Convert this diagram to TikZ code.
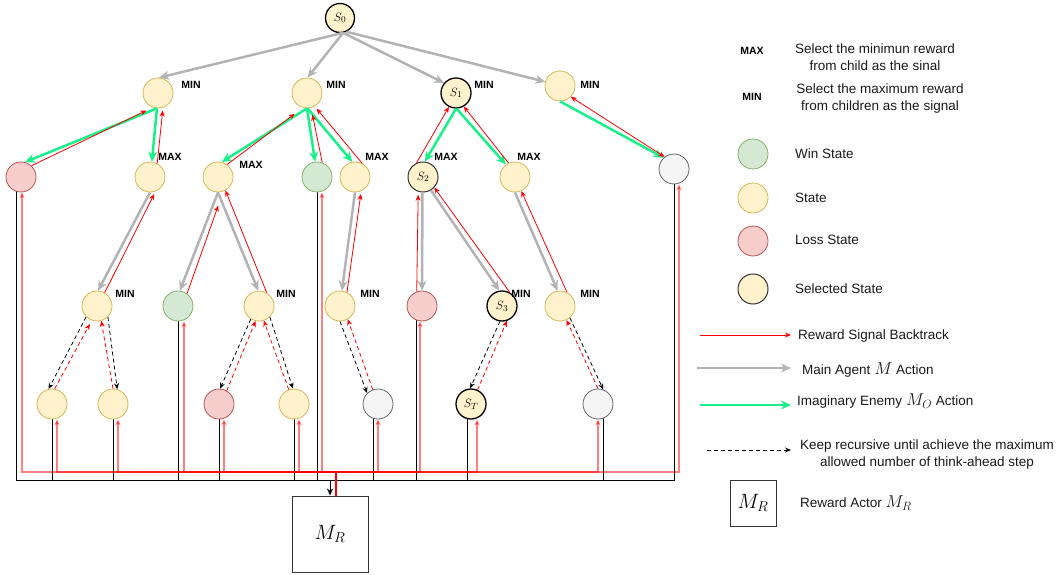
\documentclass[tikz,border=0pt]{standalone}
\usepackage{fontspec}
\setmainfont{Liberation Sans}
\usetikzlibrary{arrows.meta,calc}
\definecolor{stf}{HTML}{FFF2CC}
\definecolor{std}{HTML}{D6B656}
\definecolor{winf}{HTML}{D5E8D4}
\definecolor{wind}{HTML}{82B366}
\definecolor{lossf}{HTML}{F8CECC}
\definecolor{lossd}{HTML}{B85450}
\definecolor{greyf}{HTML}{F5F5F5}
\definecolor{greyd}{HTML}{666666}
\definecolor{agray}{HTML}{B3B3B3}
\definecolor{agreen}{HTML}{1AF08A}
\pgfdeclarelayer{bg}
\pgfsetlayers{bg,main}
\begin{document}
\begin{tikzpicture}[x=1pt,y=-1pt,
  base/.style={circle,minimum size=30pt,inner sep=0pt,line width=0.8pt,font=\fontsize{13}{13}\selectfont},
  st/.style={base,draw=std,fill=stf},
  win/.style={base,draw=wind,fill=winf},
  loss/.style={base,draw=lossd,fill=lossf},
  grey/.style={base,draw=greyd,fill=greyf},
  sel/.style={base,draw=black,fill=stf,line width=1.3pt},
  selb/.style={base,draw=black!80,fill=stf,line width=1pt},
  lab/.style={font=\fontsize{10.5}{12}\selectfont\bfseries,inner sep=0pt},
  lt/.style={font=\fontsize{13.5}{17}\selectfont,inner sep=0pt,text=black!90},
  garrow/.style={draw=agray,line width=2.5pt,-{Stealth[length=10pt,width=9pt]}},
  earrow/.style={draw=agreen,line width=2.5pt,-{Stealth[length=10pt,width=9pt]}},
  rarrow/.style={draw=red,line width=0.8pt,-{Stealth[length=6pt,width=5pt]}},
  darrow/.style={draw=black,line width=0.8pt,dash pattern=on 4pt off 3pt,-{Stealth[length=6pt,width=5pt]}},
  rdarrow/.style={draw=red,line width=0.8pt,dash pattern=on 4pt off 3pt,-{Stealth[length=6pt,width=5pt]}},
  bline/.style={draw=black,line width=1pt},
  rline/.style={draw=red,line width=1.5pt,draw opacity=0.5,fill opacity=0.5,-{Stealth[length=6pt,width=5pt]}},
  mrbox/.style={draw=black!80,line width=0.9pt,inner sep=0pt}
]
\useasboundingbox (0,0) rectangle (1060,575);

% ---------- nodes ----------
\node[sel,minimum size=29pt] (S0) at (340,18) {$S_0$};
\node[st] (A1) at (158,93) {};
\node[st] (A2) at (307,93) {};
\node[sel] (S1) at (456,93) {$S_1$};
\node[st] (A4) at (560,86) {};

\node[loss] (L) at (21,177) {};
\node[st] (B) at (150,177) {};
\node[st] (C) at (218,177) {};
\node[win] (D) at (317,177) {};
\node[st] (E) at (355,177) {};
\node[selb] (S2) at (423,177) {$S_2$};
\node[st] (F) at (515,177) {};
\node[grey] (G) at (674,169) {};

\node[st] (H) at (97,306) {};
\node[win] (I) at (178,306) {};
\node[st] (J) at (259,306) {};
\node[st] (K) at (340,306) {};
\node[loss] (Ls) at (422,306) {};
\node[sel] (S3) at (502,306) {$S_3$};
\node[st] (M) at (560,306) {};

\node[st] (N1) at (52,404) {};
\node[st] (N2) at (113,404) {};
\node[loss] (N3) at (219,404) {};
\node[st] (N4) at (294,404) {};
\node[grey] (N5) at (378,404) {};
\node[sel] (ST) at (471,404) {$S_T$};
\node[grey] (N7) at (598,404) {};

\node[mrbox,minimum width=76pt,minimum height=76pt,font=\fontsize{20.5}{20.5}\selectfont] (MR) at (330,534) {$M_R$};

% ---------- MIN / MAX labels ----------
\node[lab] (tA1) at (191,85) {MIN};
\node[lab] (tA2) at (336,85) {MIN};
\node[lab] (tS1) at (484,85) {MIN};
\node[lab] (tA4) at (590,85) {MIN};
\node[lab] (tB) at (170,157) {MAX};
\node[lab] (tC) at (251,165) {MAX};
\node[lab] (tE) at (377,157) {MAX};
\node[lab] (tS2) at (446,157) {MAX};
\node[lab] (tF) at (529,157) {MAX};
\node[lab] (tH) at (125,294) {MIN};
\node[lab] (tJ) at (286,294) {MIN};
\node[lab] (tK) at (370,294) {MIN};
\node[lab] (tS3) at (521,294) {MIN};
\node[lab] (tM) at (590,294) {MIN};

% ---------- level 0 -> 1 ----------
\draw[garrow] (S0.-78) -- (A1.86);
\draw[garrow] (S0.-78) -- (A2.88);
\draw[garrow] (S0.-78) -- (S1.140);
\draw[garrow] (S0.-65) -- (A4.164);

% ---------- level 1 -> 2 ----------
\draw[earrow] (A1.266) -- (L.75);
\draw[earrow] (A1.266) -- (B.83);
\draw[earrow] (A2.270) -- (C.76);
\draw[earrow] (A2.270) -- (D.97);
\draw[earrow] (A2.272) -- (E.100);
\draw[earrow] (S1.270) -- (S2.83);
\draw[earrow] (S1.272) -- (F.126);
\draw[earrow] (A4.270) -- (G.133);

\draw[rarrow,shorten >=7pt] (L.47) -- (A1.250);
\draw[rarrow,shorten >=3pt] (B.62) -- (A1.-71);
\draw[rarrow,shorten >=10pt] (C.54) -- (A2.254);
\draw[rarrow,shorten >=7pt] (D.70) -- (A2.-75);
\draw[rarrow,shorten >=3pt] (E.62) -- (A2.-60);
\draw[rarrow] (S2.115) -- (S1.243);
\draw[rarrow] (F.115) -- (S1.-60);
\draw[rarrow,{Stealth[length=6pt,width=5pt]}-{Stealth[length=6pt,width=5pt]}] (A4.-45) -- (G.128);

% ---------- level 2 -> 3 ----------
\draw[garrow] (B.270) -- (H.86);
\draw[rarrow,shorten >=3pt] (H.60) -- (B.-69);
\draw[garrow] (C.270) -- (I.83);
\draw[rarrow,shorten >=15pt] (I.54) -- (C.-70);
\draw[garrow] (C.270) -- (J.93);
\draw[rarrow] (J.60) -- (C.-61);
\draw[garrow] (E.270) -- (K.83);
\draw[rarrow,shorten >=3pt] (K.63) -- (E.-66);
\draw[garrow] (S2.268) -- (Ls.90);
\draw[rarrow,shorten >=3pt] (Ls.110) -- (S2.252);
\draw[garrow] (S2.-59) -- (S3.100);
\draw[rarrow] (S3.60) -- (S2.-43);
\draw[garrow] (F.270) -- (M.99);
\draw[rarrow] (M.63) -- (F.-66);

% ---------- level 3 -> 4 (dashed) ----------
\draw[darrow] (H.225) -- (N1.103);
\draw[rdarrow,shorten >=4pt] (N1.80) -- (H.250);
\draw[darrow] (H.-45) -- (N2.74);
\draw[rdarrow] (N2.90) -- (H.-74);
\draw[darrow] (J.238) -- (N3.86);
\draw[rdarrow] (N3.60) -- (J.257);
\draw[darrow] (J.-45) -- (N4.94);
\draw[rdarrow] (N4.110) -- (J.-72);
\draw[darrow] (K.270) -- (N5.135);
\draw[rdarrow] (N5.110) -- (K.-60);
\draw[darrow] (S3.262) -- (ST.93);
\draw[rdarrow] (ST.65) -- (S3.-72);
\draw[darrow] (M.-50) -- (N7.70);
\draw[rdarrow] (N7.90) -- (M.-65);

% ---------- buses to / from the reward actor ----------
\coordinate (bb) at (330,480);
\coordinate (br) at (336,472);
\begin{pgfonlayer}{bg}
\foreach \n/\s in {L/-5,N1/0,N2/0,I/0,N3/0,N4/0,D/0,N5/-5,Ls/-6,ST/-4,N7/5,G/0}
  \draw[bline] ([xshift=\s pt]\n.center) |- (bb);
\foreach \n/\s in {L/1,N1/5,N2/5,I/6,N3/5,N4/5,D/5,N5/0,Ls/-2,ST/6,N7/0,G/5}
  \draw[rline] ([xshift=6pt]MR.north) -- (br) -| ([xshift=\s pt]\n.south);
\end{pgfonlayer}
\draw[bline,-{Stealth[length=7pt,width=6pt]}] (bb) -- (MR.north);

% ---------- legend ----------
\node[lab] (lmax) at (752,51) {MAX};
\node[lt,align=center] (tmax) at (875,57) {Select the minimun reward\\from child as the sinal};
\node[lab] (lmin) at (752,97) {MIN};
\node[lt,align=center] (tmin) at (880,98.5) {Select the maximum reward\\from children as the signal};

\node[win] (lw) at (753,154) {};
\node[lt,anchor=west] (tw) at (795,154) {Win State};
\node[st] (ls) at (753,198) {};
\node[lt,anchor=west] (ts) at (795,198) {State};
\node[loss] (ll) at (753,241) {};
\node[lt,anchor=west] (tl) at (795,240) {Loss State};
\node[selb] (lsel) at (753,289) {};
\node[lt,anchor=west] (tsel) at (795,289) {Selected State};

\coordinate (r1) at (700,335);
\coordinate (r2) at (791,335);
\draw[rarrow] (r1) -- (r2);
\node[lt,anchor=west] (tr) at (798,336) {Reward Signal Backtrack};

\coordinate (g1) at (697,368);
\coordinate (g2) at (791,368);
\draw[garrow] (g1) -- (g2);
\node[lt,anchor=west] (tg) at (802,370) {Main Agent {\fontsize{17}{17}\selectfont$M$} Action};

\coordinate (e1) at (700,405);
\coordinate (e2) at (791,405);
\draw[earrow] (e1) -- (e2);
\node[lt,anchor=west] (te) at (797,401) {Imaginary Enemy {\fontsize{17}{17}\selectfont$M_O$} Action};

\coordinate (d1) at (707,450);
\coordinate (d2) at (791,450);
\draw[darrow] (d1) -- (d2);
\node[lt,align=center] (td) at (927,455) {Keep recursive until achieve the maximum\\allowed number of think-ahead step};

\node[mrbox,minimum width=46pt,minimum height=46pt,font=\fontsize{22}{22}\selectfont] (lmr) at (753,503) {$M_R$};
\node[lt,anchor=west] (tmr) at (800,503) {Reward Actor {\fontsize{17}{17}\selectfont$M_R$}};
\end{tikzpicture}
\end{document}
